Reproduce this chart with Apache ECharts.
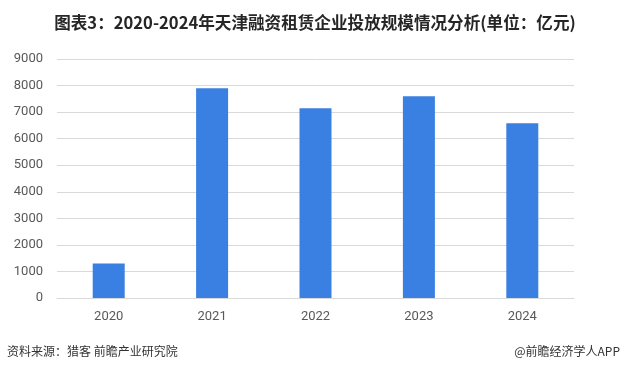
<!DOCTYPE html>
<html>
<head>
<meta charset="utf-8">
<script src="https://cdn.jsdelivr.net/npm/echarts@6/dist/echarts.min.js"></script>
<style>
  html, body { margin: 0; padding: 0; background: #fff; }
  #main { width: 628px; height: 374px; }
</style>
</head>
<body>
<div id="main"></div>
<script>
var years = ["2020", "2021", "2022", "2023", "2024"];
var amounts = [1300, 7900, 7150, 7600, 6580];
var yTicks = { min: 0, max: 9000, interval: 1000 };

var chart = echarts.init(document.getElementById("main"));

var option = {
  backgroundColor: "#ffffff",
  animation: false,
  title: {
    text: "图表3：2020-2024年天津融资租赁企业投放规模情况分析(单位：亿元)",
    left: 310,
    textAlign: "center",
    top: 9,
    textStyle: {
      fontFamily: "Noto Sans CJK SC",
      fontSize: 16.6,
      fontWeight: "bold",
      color: "#262626"
    }
  },
  grid: { left: 57, right: 54, top: 59, bottom: 76 },
  xAxis: {
    type: "category",
    data: years,
    axisLine: { show: true, lineStyle: { color: "#d9d9d9" } },
    axisTick: { show: false },
    axisLabel: { color: "#595959", fontSize: 13, margin: 12, fontFamily: "Roboto" }
  },
  yAxis: {
    type: "value",
    min: yTicks.min,
    max: yTicks.max,
    interval: yTicks.interval,
    axisLine: { show: false },
    axisTick: { show: false },
    axisLabel: {
      color: "#595959", fontSize: 13, margin: 14, fontFamily: "Roboto",
      formatter: function (v) { return String(v); }
    },
    splitLine: { lineStyle: { color: "#d9d9d9" } }
  },
  series: [{
    type: "bar",
    data: amounts,
    barWidth: 32,
    itemStyle: { color: "#3a80e2" }
  }],
  graphic: [
    {
      type: "text", left: 7, top: 345,
      style: { text: "资料来源：猎客 前瞻产业研究院", fontSize: 12, fill: "#333", fontFamily: "Noto Sans CJK SC" }
    },
    {
      type: "text", right: 8, top: 345,
      style: { text: "@前瞻经济学人APP", fontSize: 12, fill: "#333", fontFamily: "Noto Sans CJK SC" }
    }
  ]
};

chart.setOption(option);
</script>
</body>
</html>
